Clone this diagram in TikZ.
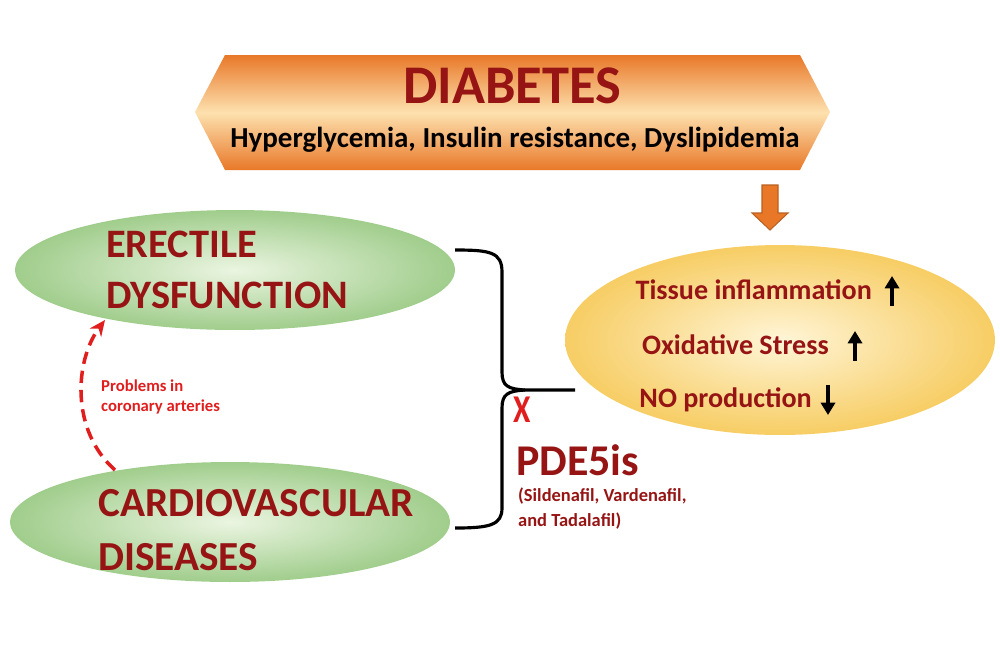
\documentclass[tikz,border=0pt]{standalone}
\usepackage{fontspec}
\setmainfont{Carlito}
\usetikzlibrary{shapes.geometric, arrows.meta, positioning, calc}
\definecolor{darkred}{RGB}{150,20,20}
\definecolor{brightred}{RGB}{225,30,30}
\definecolor{bannerorange}{RGB}{232,120,40}
\definecolor{bannerlight}{RGB}{253,225,175}
\definecolor{greenedge}{RGB}{160,205,140}
\definecolor{greenmid}{RGB}{235,245,225}
\definecolor{yellowedge}{RGB}{247,205,100}
\definecolor{yellowmid}{RGB}{255,245,215}
\tikzset{
    greenblob/.style={
        ellipse, inner color=greenmid, outer color=greenedge,
        minimum width=8.8cm, minimum height=2.4cm
    },
    yellowblob/.style={
        ellipse, inner color=yellowmid, outer color=yellowedge,
        minimum width=8.6cm, minimum height=3.8cm
    },
    title/.style={font=\fontsize{31}{32}\selectfont\bfseries, text=darkred},
    bigtext/.style={font=\fontsize{23}{29}\selectfont\bfseries, text=darkred, align=left},
    effect/.style={font=\fontsize{16}{18}\selectfont\bfseries, text=darkred},
    note/.style={font=\fontsize{9.5}{11}\selectfont\bfseries, text=brightred, align=left},
    updown/.style={draw=black, line width=2.8pt, -{Triangle[length=7pt,width=8pt]}},
    brace/.style={draw=black, line width=1.8pt}
}
\begin{document}
\begin{tikzpicture}[x=0.02cm, y=-0.02cm]
\useasboundingbox (0,0) rectangle (1000,667);

% Banner
\path[top color=bannerorange, bottom color=bannerorange, middle color=bannerlight]
    (195,112) -- (225,55) -- (800,55) -- (830,112) -- (800,170) -- (225,170) -- cycle;
\node[title] (diab) at (512,86) {DIABETES};
\node[font=\fontsize{16.5}{18}\selectfont\bfseries] (risk) at (515,140)
    {Hyperglycemia, Insulin resistance, Dyslipidemia};
\path[fill=bannerorange, draw=bannerorange!80!black, line width=0.6pt]
    (762,185) -- (778,185) -- (778,213) -- (788,213) -- (770,230) -- (752,213) -- (762,213) -- cycle;

% Ellipses
\node[greenblob] (ed) at (235,270) {};
\node[greenblob] (cvd) at (230,522) {};
\node[yellowblob] (eff) at (780,340) {};

\node[bigtext, anchor=west] (edtext) at (100,270) {ERECTILE\\DYSFUNCTION};
\node[bigtext, anchor=west, font=\fontsize{23.5}{31}\selectfont\bfseries] (cvdtext) at (92,530) {CARDIOVASCULAR\\DISEASES};

% Effects
\node[effect, anchor=east] (infl) at (878,290) {Tissue inflammation};
\node[effect, anchor=east] (oxi) at (835,345) {Oxidative Stress};
\node[effect, anchor=east] (no) at (818,400) {NO production};
\coordinate (a1) at (892,306);
\coordinate (a2) at (855,361);
\coordinate (a3) at (828,385);
\draw[updown] (a1) -- ++(0,-30);
\draw[updown] (a2) -- ++(0,-30);
\draw[updown] (a3) -- ++(0,30);

% Brace
\coordinate (tip) at (575,390);
\draw[brace] (455,250) .. controls (490,250) and (502,252) .. (502,272)
    -- (502,372) .. controls (502,386) and (508,389) .. (525,390) -- (tip);
\draw[brace] (525,390) .. controls (508,391) and (502,394) .. (502,408)
    -- (502,508) .. controls (502,525) and (490,528) .. (455,528);

% Drugs
\node[font=\fontsize{28}{28}\selectfont\bfseries, text=brightred, scale=0.8, xscale=0.8] (cross) at (522,410) {X};
\node[anchor=west, font=\fontsize{25}{27}\selectfont\bfseries, text=darkred] (pde) at (510,460) {PDE5is};
\node[anchor=north west, font=\fontsize{10.5}{14}\selectfont\bfseries, text=darkred, align=left] (drugs)
    at (512,482) {(Sildenafil, Vardenafil,\\and Tadalafil)};

% Link
\coordinate (from) at (115,470);
\coordinate (to) at (105,320);
\draw[brightred, line width=2pt, dash pattern=on 7pt off 4pt, -{Stealth[length=9pt,width=8pt]}]
    (from) .. controls (70,430) and (75,360) .. (to);
\node[note, anchor=west] (prob) at (95,397) {Problems in\\coronary arteries};

\end{tikzpicture}
\end{document}
